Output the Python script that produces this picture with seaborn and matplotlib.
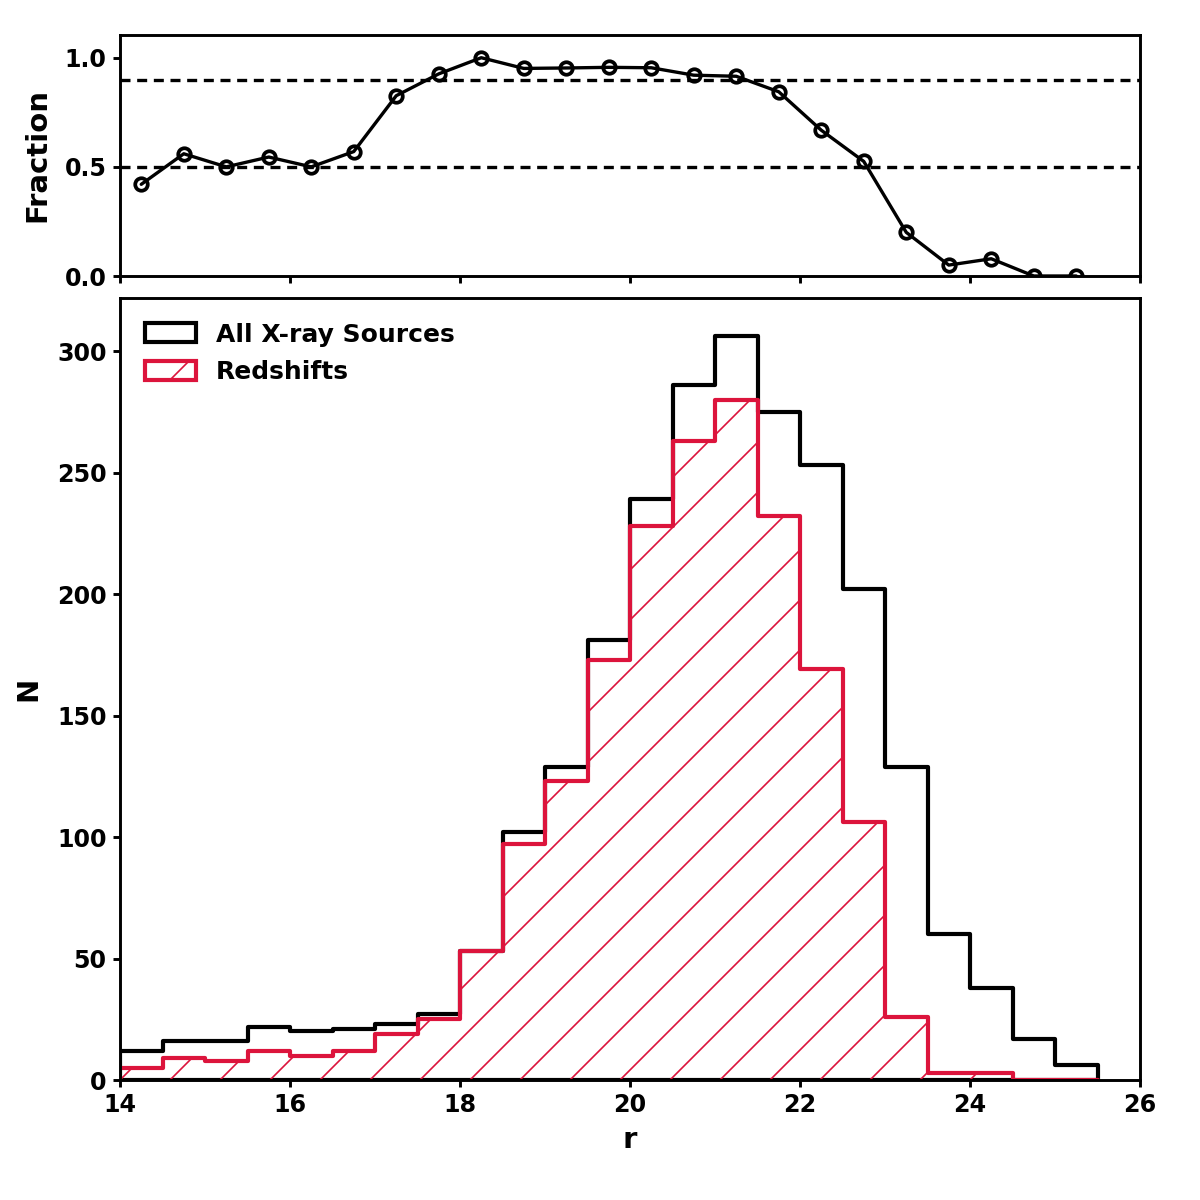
import numpy as np
import pandas as pd
import matplotlib
matplotlib.use("Agg")
import matplotlib.pyplot as plt
from matplotlib.patches import Patch
import seaborn as sns

# ---- data ----
bin_edges = [14.0, 14.5, 15.0, 15.5, 16.0, 16.5, 17.0, 17.5, 18.0, 18.5, 19.0, 19.5,
             20.0, 20.5, 21.0, 21.5, 22.0, 22.5, 23.0, 23.5, 24.0, 24.5, 25.0, 25.5]
all_counts = [12, 16, 16, 22, 20, 21, 23, 27, 53, 102, 129, 181,
              239, 286, 306, 275, 253, 202, 129, 60, 38, 17, 6]
z_counts = [5, 9, 8, 12, 10, 12, 19, 25, 53, 97, 123, 173,
            228, 263, 280, 232, 169, 106, 26, 3, 3, 0, 0]
fraction = [0.42, 0.56, 0.50, 0.545, 0.50, 0.57, 0.826, 0.926, 1.0, 0.951, 0.953, 0.956,
            0.954, 0.92, 0.915, 0.844, 0.668, 0.525, 0.20, 0.05, 0.079, 0.0, 0.0]
ref_levels = [0.5, 0.9]
legend_labels = ["All X-ray Sources", "Redshifts"]
x_ticks = [14, 16, 18, 20, 22, 24, 26]
y_ticks_n = [0, 50, 100, 150, 200, 250, 300]
y_ticks_f = [0.0, 0.5, 1.0]

edges = np.array(bin_edges)
centers = (edges[:-1] + edges[1:]) / 2
bw = float(edges[1] - edges[0])
brange = (float(edges[0]), float(edges[-1]))
df = pd.DataFrame({"r": centers, "all": all_counts, "z": z_counts, "frac": fraction})

sns.set_style("ticks")
RED = "#dc143c"
plt.rcParams.update({
    "font.family": ["DejaVu Sans"],
    "font.weight": "bold",
    "axes.labelweight": "bold",
    "hatch.linewidth": 0.4,
    "hatch.color": RED,
    "axes.linewidth": 0.7,
    "axes.edgecolor": "black",
    "axes.labelcolor": "black",
    "text.color": "black",
    "xtick.color": "black",
    "ytick.color": "black",
})

fig = plt.figure(figsize=(4, 4), dpi=300)
ax_top = fig.add_axes([0.1, 0.77, 0.85, 0.201])
ax = fig.add_axes([0.1, 0.1, 0.85, 0.652])

# ---- bottom histogram ----
sns.histplot(data=df, x="r", weights="all", binwidth=bw, binrange=brange, element="step",
             fill=True, color="black", facecolor="none", edgecolor="black", linewidth=1.0,
             alpha=1, ax=ax)
# hatched region (hatch only)
sns.histplot(data=df, x="r", weights="z", binwidth=bw, binrange=brange, element="step",
             fill=True, color=RED, facecolor="none", edgecolor=RED, linewidth=0,
             alpha=1, hatch="//", ax=ax)
# red outline
sns.histplot(data=df, x="r", weights="z", binwidth=bw, binrange=brange, element="step",
             fill=False, color=RED, linewidth=1.0, ax=ax)
ax.set_xlim(14, 26)
ax.set_ylim(0, 322)
ax.set_xticks(x_ticks)
ax.set_yticks(y_ticks_n)
ax.set_xlabel("r", fontsize=7, fontweight="bold", labelpad=2)
ax.set_ylabel("N", fontsize=7, fontweight="bold", labelpad=3.5)
ax.tick_params(labelsize=5.7, length=1.7, width=0.7, pad=1.5)
for lab in ax.get_xticklabels() + ax.get_yticklabels():
    lab.set_fontweight("bold")
handles = [Patch(facecolor="none", edgecolor="black", linewidth=1.0),
           Patch(facecolor="none", edgecolor=RED, linewidth=1.0, hatch="//")]
leg = ax.legend(handles, legend_labels, loc="upper left", frameon=False, fontsize=6,
                handlelength=2.05, handleheight=0.8, borderaxespad=0.6, labelspacing=0.55)
for t in leg.get_texts():
    t.set_fontweight("bold")

# ---- top fraction panel ----
sns.lineplot(data=df, x="r", y="frac", color="black", linewidth=0.8, marker="o",
             markersize=3.0, markerfacecolor="none", markeredgecolor="black",
             markeredgewidth=0.9, ax=ax_top)
for lv in ref_levels:
    ax_top.axhline(lv, color="black", linestyle="--", linewidth=0.8, dashes=(3, 2))
ax_top.set_xlim(14, 26)
ax_top.set_ylim(0, 1.105)
ax_top.set_xticks(x_ticks)
ax_top.set_xticklabels([])
ax_top.set_yticks(y_ticks_f)
ax_top.set_yticklabels(["0.0", "0.5", "1.0"])
ax_top.set_xlabel("")
ax_top.set_ylabel("Fraction", fontsize=7, fontweight="bold", labelpad=3.2)
ax_top.tick_params(labelsize=5.7, length=1.7, width=0.7, pad=1.5)
for lab in ax_top.get_yticklabels():
    lab.set_fontweight("bold")

fig.savefig("out.png", dpi=300)
